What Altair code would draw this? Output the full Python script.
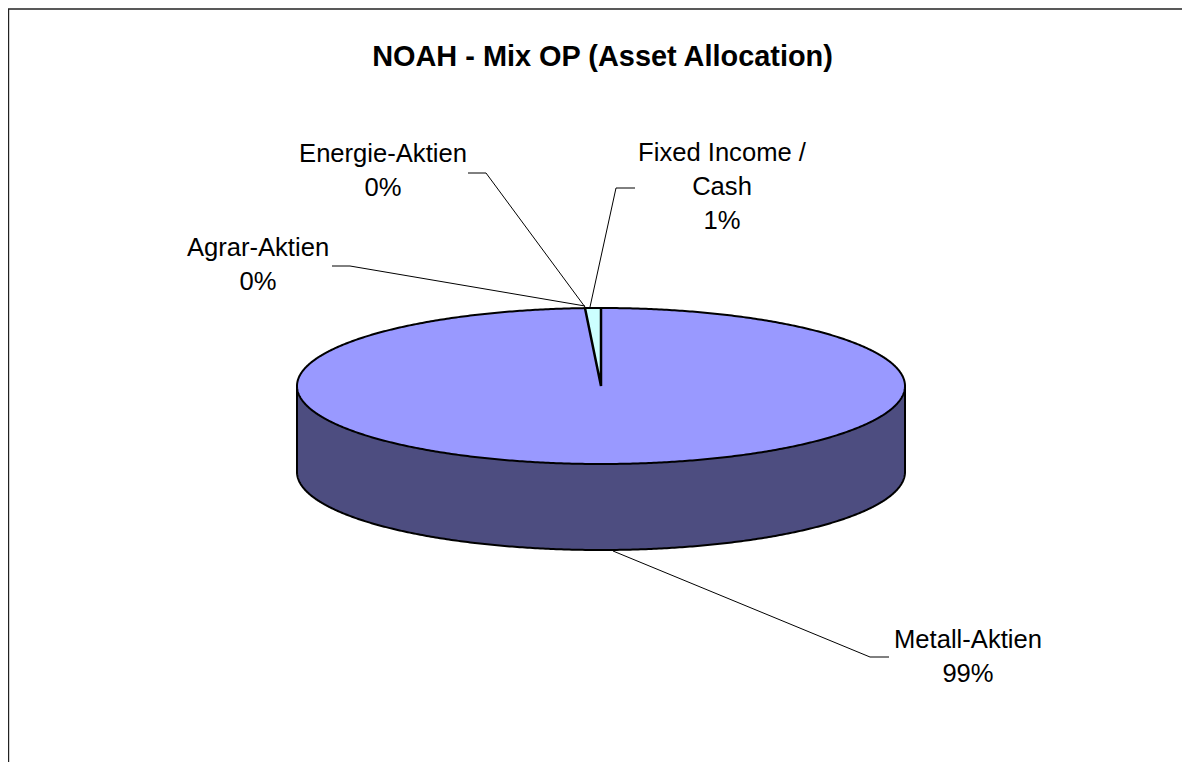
import numpy as np
import pandas as pd
import altair as alt

title = "NOAH - Mix OP (Asset Allocation)"
categories = ["Metall-Aktien", "Agrar-Aktien", "Energie-Aktien", "Fixed Income /\nCash"]
shares = [99.06, 0.05, 0.05, 0.84]

W, H = 1174, 754
OX, OY = 8, 8
CX, CY, RX, RY, DEPTH = 601 - OX, 386 - OY, 304, 78, 86
FONT = "Liberation Sans"
TOP, SIDE, WEDGE = "#9999FF", "#4D4D80", "#CCFFFF"

xs = alt.X("x:Q", scale=alt.Scale(domain=[0, W], range=[0, W]), axis=None)
ys = alt.Y("y:Q", scale=alt.Scale(domain=[0, H], range=[0, H]), axis=None)
y2 = alt.Y2("y2:Q")


def rim(theta):
    theta = np.asarray(theta)
    return CX + RX * np.sin(theta), CY - RY * np.cos(theta)


# Slices run clockwise from 12 o'clock, in the order of the data.
total = sum(shares)
cum = np.cumsum([0] + shares) / total * 2 * np.pi
fixed_start = cum[3]
x_left, y_left = rim(fixed_start)

# Side wall: the lower half of the rim swept down by the depth of the pie.
sx = np.linspace(-RX, RX, 400)
half = RY * np.sqrt(np.clip(1 - (sx / RX) ** 2, 0, 1))
side = pd.DataFrame({"x": CX + sx, "y": CY - half, "y2": CY + half + DEPTH})
side_fill = alt.Chart(side).mark_area(color=SIDE, opacity=1).encode(xs, ys, y2)

# Top ellipse.
top = pd.DataFrame({"x": CX + sx, "y": CY - half, "y2": CY + half})
top_fill = alt.Chart(top).mark_area(color=TOP, opacity=1).encode(xs, ys, y2)

# Fixed Income wedge.
wx = np.linspace(x_left, CX, 40)
w_top = CY - RY * np.sqrt(1 - ((wx - CX) / RX) ** 2)
w_bot = y_left + (CY - y_left) * (wx - x_left) / (CX - x_left)
wedge = pd.DataFrame({"x": wx, "y": w_top, "y2": w_bot})
wedge_fill = alt.Chart(wedge).mark_area(color=WEDGE, opacity=1).encode(xs, ys, y2)

order = alt.Order("i:Q")


def path(px, py, size=2.0, color="#000000"):
    df = pd.DataFrame({"x": px, "y": py, "i": np.arange(len(px))})
    return alt.Chart(df).mark_line(color=color, strokeWidth=size, interpolate="linear").encode(xs, ys, order)


t = np.linspace(0, 2 * np.pi, 721)
outline_top = path(*rim(t))
lower = np.linspace(np.pi / 2, 3 * np.pi / 2, 361)
lx, ly = rim(lower)
outline_side = path(
    np.r_[CX + RX, lx, CX - RX],
    np.r_[CY, ly + DEPTH, CY],
)
wedge_line = path([x_left, CX, CX], [y_left, CY, CY - RY], size=2.5)

# Leader lines, each from the label to its slice.
leaders = [
    ([613 - OX, 870 - OX, 889 - OX], [551 - OY, 657 - OY, 657 - OY]),
    ([585 - OX, 350 - OX, 332 - OX], [306 - OY, 266 - OY, 266 - OY]),
    ([585 - OX, 486 - OX, 468 - OX], [307 - OY, 173 - OY, 173 - OY]),
    ([590 - OX, 616 - OX, 635 - OX], [307 - OY, 188 - OY, 188 - OY]),
]
leader_layers = [path(a, b, size=1.0) for a, b in leaders]

# Frame: the chart area's border runs on past the right and bottom of the picture.
frame = [
    path([0, W], [1, 1], size=1.6, color="#222222"),
    path([0.4, 0.4], [1, H], size=1.6, color="#222222"),
]

pcts = [f"{round(s)}%" for s in shares]
label_pos = [(968, 640), (258, 248), (383, 154), (722, 153)]
labels = pd.DataFrame({
    "text": [f"{c}\n{p}" for c, p in zip(categories, pcts)],
    "x": [p[0] - OX for p in label_pos],
    "y": [p[1] - OY for p in label_pos],
})
label_text = alt.Chart(labels).mark_text(
    font=FONT, fontSize=25.6, lineBreak="\n", lineHeight=34, align="center", baseline="middle", color="#000000"
).encode(xs, ys, text="text:N")

title_df = pd.DataFrame({"text": [title], "x": [602.5 - OX], "y": [57 - OY]})
title_text = alt.Chart(title_df).mark_text(
    font=FONT, fontSize=28.9, fontWeight="bold", align="center", baseline="middle", color="#000000"
).encode(xs, ys, text="text:N")

chart = alt.layer(
    side_fill, outline_side, top_fill, wedge_fill, outline_top, wedge_line,
    *leader_layers, *frame, label_text, title_text,
).properties(
    width=W, height=H, background="#FFFFFF",
    padding={"left": 0, "right": 0, "top": 0, "bottom": 0},
    autosize=alt.AutoSizeParams(type="none", contains="content"),
).configure_view(stroke=None)

chart.save("out.html", embed_options={"renderer": "svg", "actions": False})
